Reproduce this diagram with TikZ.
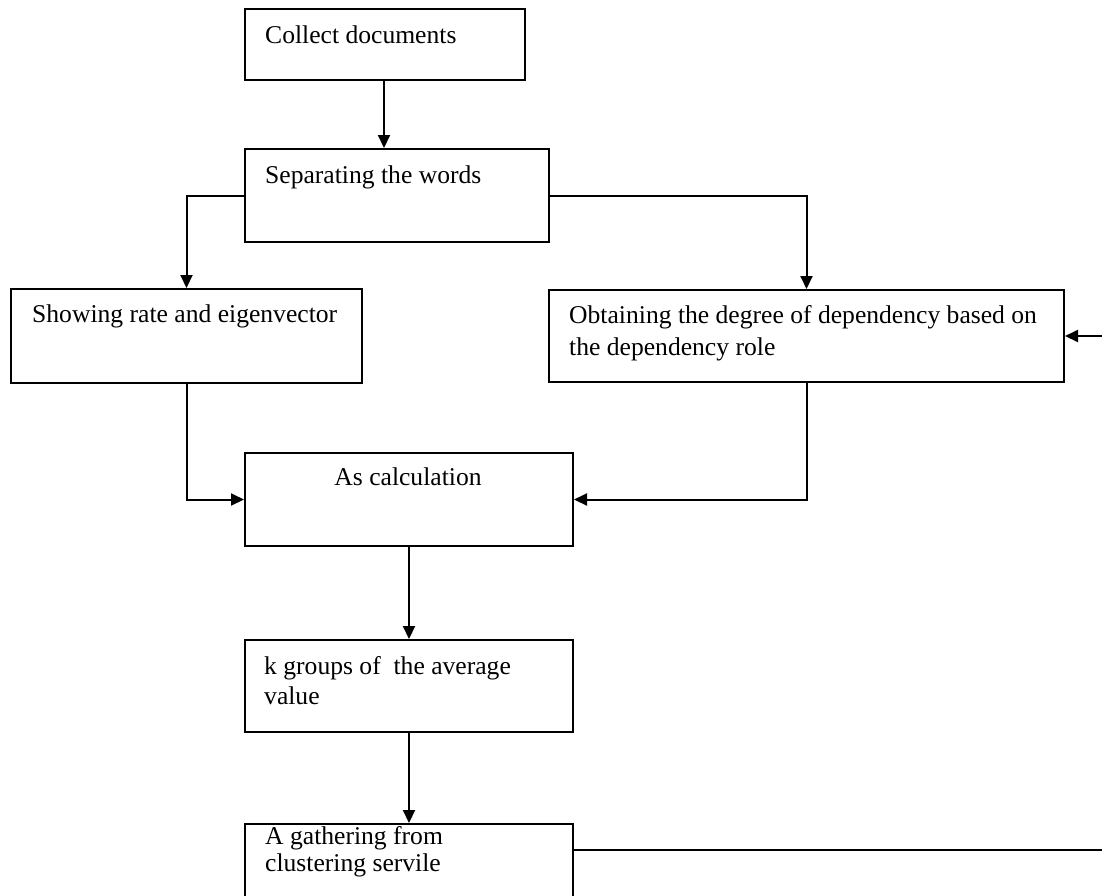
\documentclass[tikz,border=0pt]{standalone}
\usepackage{fontspec}
\setmainfont{Liberation Serif}
\usetikzlibrary{arrows.meta,calc}
\tikzset{
  box/.style={draw=black, line width=2pt, inner sep=0pt, anchor=north west},
  txt/.style={inner sep=0pt, anchor=north west, align=left, text=black},
  conn/.style={draw=black, line width=2pt},
  arr/.style={conn, -{Triangle[length=13pt,width=12pt]}}
}
\begin{document}
\begin{tikzpicture}[x=1pt,y=-1pt]
\useasboundingbox (0,0) rectangle (1102,895);
\path[clip] (0,0) rectangle (1102,895);
\fill[white] (0,0) rectangle (1102,895);
% boxes
\node[box, minimum width=280pt, minimum height=71pt] (collect) at (244,8) {};
\node[box, minimum width=304pt, minimum height=93pt] (sep) at (244,148) {};
\node[box, minimum width=351pt, minimum height=94pt] (show) at (10,288) {};
\node[box, minimum width=515pt, minimum height=92pt] (obt) at (548,289) {};
\node[box, minimum width=328pt, minimum height=93pt] (calc) at (244,452) {};
\node[box, minimum width=328pt, minimum height=92pt] (kg) at (244,639) {};
\node[box, minimum width=328pt, minimum height=110pt] (gath) at (244,823) {};
% texts
\node[txt, font=\fontsize{25.6}{33}\selectfont] (tcollect) at (265,26) {Collect documents};
\node[txt, font=\fontsize{25.6}{33}\selectfont] (tsep) at (265,166) {Separating the words};
\node[txt, font=\fontsize{25.6}{33}\selectfont] (tshow) at (32,305) {Showing rate and eigenvector};
\node[txt, font=\fontsize{25.6}{32}\selectfont] (tobt) at (569,305) {Obtaining the degree of dependency based on\\the dependency role};
\node[inner sep=0pt, anchor=base, font=\fontsize{25.6}{33}\selectfont] (tcalc) at (408,485) {As calculation};
\node[txt, font=\fontsize{25.6}{30}\selectfont] (tkg) at (264,656) {k groups of~ the average\\value};
\node[txt, font=\fontsize{25.6}{27}\selectfont] (tgath) at (265,826) {A gathering from\\clustering servile};
% connectors
\coordinate (cx) at (384,0);
\coordinate (cy) at (0,850);
\coordinate (far1) at (1140,850);
\coordinate (far2) at (1140,0);
\draw[arr] (cx |- collect.south) -- (cx |- sep.north);
\draw[arr] (sep.west) -| (show.north);
\draw[arr] (sep.east) -| (obt.north);
\draw[arr] (show.south) |- (calc.west);
\draw[arr] (obt.south) |- (calc.east);
\draw[arr] (calc.south) -- (kg.north);
\draw[arr] (kg.south) -- (gath.north);
\draw[arr] (gath.east |- cy) -- (far1) -- (far2 |- obt.east) -- (obt.east);
\end{tikzpicture}
\end{document}
